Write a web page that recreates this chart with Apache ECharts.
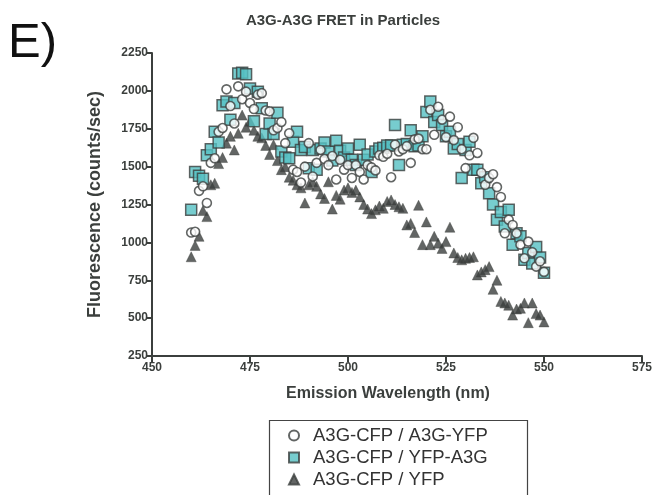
<!DOCTYPE html>
<html>
<head>
<meta charset="utf-8">
<script src="https://cdn.jsdelivr.net/npm/echarts@6/dist/echarts.min.js"></script>
<style>
  html, body { margin: 0; padding: 0; background: #fff; }
  #chart { width: 655px; height: 495px; }
</style>
</head>
<body>
<div id="chart"></div>
<script>
// Emission wavelengths (nm), one reading per nanometre
const wavelengths = [];
for (let w = 460; w <= 550; w++) wavelengths.push(w);

// Fluorescence (counts/sec), 460–550 nm
const cfpA3gYfp = [
  1065, 1070, 1340, 1370, 1260, 1525, 1555, 1730, 1755, 2010,
  1900, 1785, 2030, 1945, 1995, 1920, 1880, 1975, 1985, 1870,
  1865, 1740, 1755, 1795, 1655, 1720, 1480, 1465, 1395, 1500,
  1655, 1435, 1525, 1610, 1550, 1510, 1570, 1415, 1545, 1480,
  1510, 1425, 1510, 1465, 1415, 1510, 1495, 1475, 1575, 1565,
  1585, 1430, 1645, 1600, 1615, 1635, 1525, 1680, 1685, 1615,
  1615, 1875, 1710, 1895, 1810, 1695, 1830, 1675, 1760, 1615,
  1490, 1575, 1690, 1590, 1460, 1380, 1425, 1450, 1365, 1300,
  1060, 1150, 1115, 1060, 985, 895, 1005, 935, 840, 875,
  805
];
const cfpYfpA3g = [
  1215, 1465, 1440, 1420, 1575, 1615, 1730, 1660, 1905, 1930,
  1810, 1920, 2115, 2120, 2110, 2015, 1800, 1995, 1885, 1715,
  1785, 1715, 1855, 1600, 1560, 1555, 1665, 1730, 1610, 1630,
  1490, 1610, 1480, 1620, 1660, 1600, 1540, 1670, 1605, 1560,
  1620, 1545, 1510, 1645, 1545, 1580, 1465, 1600, 1620, 1625,
  1640, 1640, 1775, 1510, 1645, 1650, 1740, 1635, 1640, 1700,
  1860, 1930, 1795, 1840, 1775, 1700, 1730, 1620, 1650, 1425,
  1610, 1665, 1480, 1480, 1390, 1430, 1325, 1250, 1150, 1200,
  1105, 1215, 985, 1060, 1040, 885, 930, 860, 970, 900,
  800
];
const cfpYfp = [
  905, 980, 1040, 1210, 1170, 1380, 1390, 1520, 1560, 1655,
  1700, 1610, 1720, 1840, 1760, 1800, 1740, 1700, 1690, 1640,
  1580, 1645, 1540, 1480, 1500, 1430, 1410, 1380, 1360, 1260,
  1380, 1400, 1370, 1320, 1290, 1400, 1220, 1310, 1285, 1345,
  1360, 1330, 1345, 1300, 1250, 1220, 1190, 1215, 1240, 1225,
  1270, 1280, 1250, 1235, 1225, 1115, 1125, 1065, 1245, 985,
  1135, 985, 1040, 995, 960, 1005, 1100, 930, 900, 885,
  895, 900, 905, 785, 805, 820, 840, 690, 750, 610,
  600, 585, 520, 560, 565, 600, 470, 600, 530, 520,
  475
];

const seriesNames = ['A3G-CFP / A3G-YFP', 'A3G-CFP / YFP-A3G', 'A3G-CFP / YFP'];
const xTicks = { min: 450, max: 575, step: 25 };
const yTicks = { min: 250, max: 2250, step: 250 };

const ink = '#3b3f3d';
const teal = '#55c1c3';
const font = '"Liberation Sans", Arial, Helvetica, sans-serif';

const pairs = (ys) => wavelengths.map((w, i) => [w, ys[i]]);
const plain = (v) => String(v);

const chart = echarts.init(document.getElementById('chart'), null, { renderer: 'canvas' });

chart.setOption({
  animation: false,
  backgroundColor: '#fff',
  title: {
    text: 'A3G-A3G FRET in Particles',
    left: 338, top: 8, textAlign: 'center',
    textStyle: { fontFamily: font, fontSize: 15, fontWeight: 'bold', color: ink }
  },
  graphic: [
    {
      type: 'text', left: 8, top: 19,
      style: { text: 'E)', font: 'normal 49px ' + font, fill: '#111' }
    },
    {
      type: 'rect', left: 267, top: 418,
      shape: { width: 258, height: 100 },
      style: { fill: 'none', stroke: '#444', lineWidth: 1.2 }
    }
  ],
  legend: {
    orient: 'vertical',
    left: 283, top: 421,
    itemWidth: 10, itemHeight: 10, itemGap: 3,
    data: seriesNames,
    textStyle: { fontFamily: font, fontSize: 18.5, lineHeight: 18, color: '#333', padding: [0, 0, 0, 9] }
  },
  grid: { left: 152, right: 13, top: 53, bottom: 139, containLabel: false },
  xAxis: {
    type: 'value',
    min: xTicks.min, max: xTicks.max, interval: xTicks.step,
    name: 'Emission Wavelength (nm)',
    nameLocation: 'middle', nameGap: 30,
    nameTextStyle: { fontFamily: font, fontSize: 16, fontWeight: 'bold', color: ink, padding: [0, 18, 0, 0] },
    axisLine: { show: true, lineStyle: { color: ink, width: 2 } },
    axisTick: { show: true, inside: false, length: 6, lineStyle: { color: ink, width: 2 } },
    axisLabel: { fontFamily: font, fontSize: 12, fontWeight: 'bold', color: ink, margin: 6, formatter: plain },
    splitLine: { show: false }
  },
  yAxis: {
    type: 'value',
    min: yTicks.min, max: yTicks.max, interval: yTicks.step,
    name: 'Fluorescence (counts/sec)',
    nameLocation: 'middle', nameGap: 48, nameRotate: 90,
    nameTextStyle: { fontFamily: font, fontSize: 18, fontWeight: 'bold', color: ink },
    axisLine: { show: true, lineStyle: { color: ink, width: 2 } },
    axisTick: { show: true, inside: false, length: 5, lineStyle: { color: ink, width: 2 } },
    axisLabel: { fontFamily: font, fontSize: 12, fontWeight: 'bold', color: ink, margin: 4, formatter: plain },
    splitLine: { show: false }
  },
  series: [
    {
      name: seriesNames[2], type: 'scatter', z: 2,
      symbol: 'triangle', symbolSize: 10,
      itemStyle: { color: ink, borderColor: ink, borderWidth: 0.5 },
      data: pairs(cfpYfp)
    },
    {
      name: seriesNames[1], type: 'scatter', z: 3,
      symbol: 'rect', symbolSize: 11,
      itemStyle: { color: teal, borderColor: ink, borderWidth: 1.5 },
      data: pairs(cfpYfpA3g)
    },
    {
      name: seriesNames[0], type: 'scatter', z: 4,
      symbol: 'circle', symbolSize: 9,
      itemStyle: { color: '#fff', borderColor: ink, borderWidth: 1.6 },
      data: pairs(cfpA3gYfp)
    }
  ]
});
</script>
</body>
</html>
